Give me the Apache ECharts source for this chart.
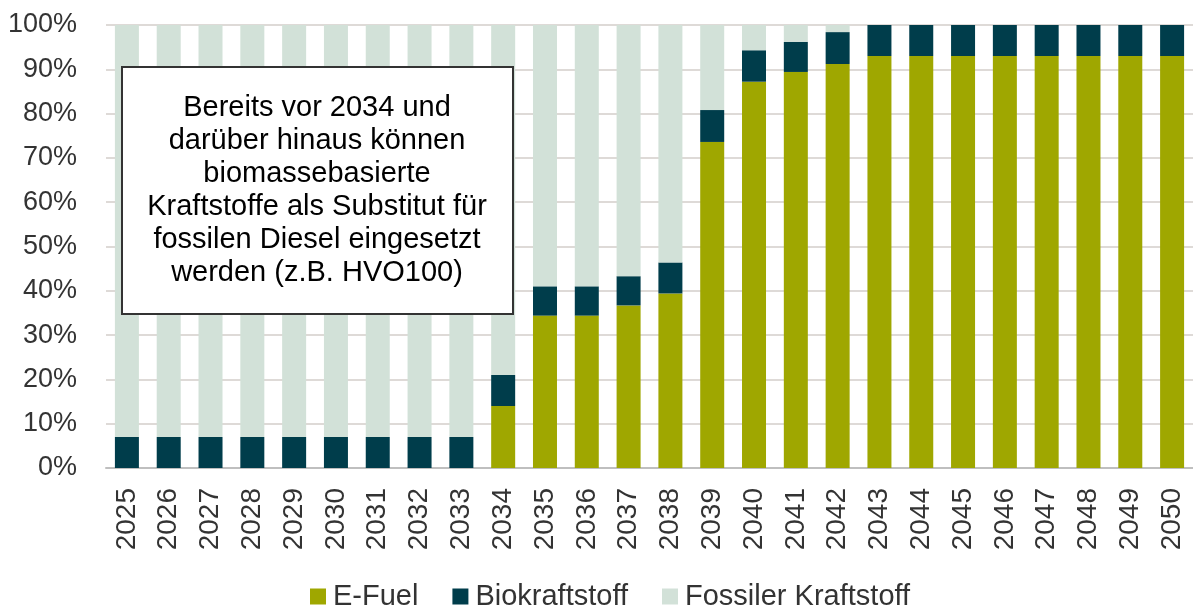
<!DOCTYPE html>
<html>
<head>
<meta charset="utf-8">
<script src="https://cdn.jsdelivr.net/npm/echarts@6/dist/echarts.min.js"></script>
<style>
  html, body { margin: 0; padding: 0; background: #ffffff; }
  #chart { width: 1193px; height: 605px; }
</style>
</head>
<body>
<div id="chart"></div>
<script>
// Jahre
const years = ['2025', '2026', '2027', '2028', '2029', '2030', '2031', '2032', '2033',
  '2034', '2035', '2036', '2037', '2038', '2039', '2040', '2041', '2042',
  '2043', '2044', '2045', '2046', '2047', '2048', '2049', '2050']

// Anteile in %
const eFuel = [0, 0, 0, 0, 0, 0, 0, 0, 0,
  14, 34.4, 34.4, 36.7, 39.4, 73.6, 87.2, 89.4, 91.2,
  93, 93, 93, 93, 93, 93, 93, 93]
const bio = [7, 7, 7, 7, 7, 7, 7, 7, 7,
  7, 6.6, 6.6, 6.6, 7, 7.2, 7.1, 6.8, 7.2,
  7, 7, 7, 7, 7, 7, 7, 7]
const fossil = years.map((_, i) => +(100 - eFuel[i] - bio[i]).toFixed(1))

const yTicks = [0, 10, 20, 30, 40, 50, 60, 70, 80, 90, 100]

const noteLines = [
  'Bereits vor 2034 und',
  'darüber hinaus können',
  'biomassebasierte',
  'Kraftstoffe als Substitut für',
  'fossilen Diesel eingesetzt',
  'werden (z.B. HVO100)'
]

const colors = {
  eFuel: '#9FA700',
  bio: '#003D4B',
  fossil: '#D2E1D8',
  text: '#333333'
}

const font = 'Liberation Sans, Arial, sans-serif'

const chart = echarts.init(document.getElementById('chart'))

const barSeries = (name, data, color) => ({
  name,
  type: 'bar',
  stack: 'total',
  data,
  barWidth: 24,
  itemStyle: { color },
  emphasis: { disabled: true }
})

chart.setOption({
  animation: false,
  textStyle: { fontFamily: font },
  grid: { left: 106, right: 0, top: 25, bottom: 137 },
  legend: {
    left: 305,
    top: 577,
    itemWidth: 16,
    itemHeight: 16,
    itemGap: 34,
    icon: 'rect',
    textStyle: { fontSize: 29, color: colors.text, fontFamily: font, padding: [0, 0, 0, 2] },
    data: ['E-Fuel', 'Biokraftstoff', 'Fossiler Kraftstoff']
  },
  xAxis: {
    type: 'category',
    data: years,
    axisLine: { lineStyle: { color: '#BFBFBF', width: 2 } },
    axisTick: { show: false },
    axisLabel: { rotate: 90, fontSize: 28, color: colors.text, margin: 20, fontFamily: font }
  },
  yAxis: {
    type: 'value',
    min: 0,
    max: 100,
    interval: 10,
    axisLine: { show: false },
    axisTick: { show: false },
    splitLine: { lineStyle: { color: '#DEDAD7', width: 2 } },
    axisLabel: {
      fontSize: 27,
      color: colors.text,
      margin: 29,
      fontFamily: font,
      formatter: v => (yTicks.includes(v) ? v + '%' : '')
    }
  },
  series: [
    barSeries('E-Fuel', eFuel, colors.eFuel),
    barSeries('Biokraftstoff', bio, colors.bio),
    barSeries('Fossiler Kraftstoff', fossil, colors.fossil)
  ],
  graphic: [
    {
      type: 'rect',
      z: 100,
      shape: { x: 122, y: 67, width: 391, height: 247 },
      style: { fill: '#ffffff', stroke: '#333333', lineWidth: 2 }
    },
    {
      type: 'text',
      z: 101,
      x: 317,
      y: 190,
      style: {
        text: noteLines.join('\n'),
        fill: '#000000',
        font: '29px ' + font,
        lineHeight: 33,
        align: 'center',
        verticalAlign: 'middle'
      }
    }
  ]
})
</script>
</body>
</html>
